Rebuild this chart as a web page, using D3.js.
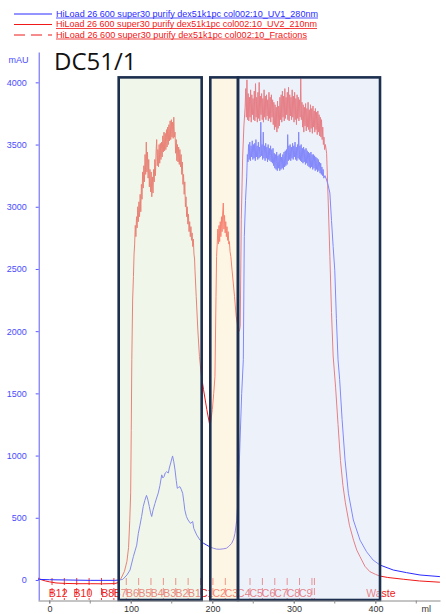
<!DOCTYPE html>
<html><head><meta charset="utf-8">
<script src="https://cdn.jsdelivr.net/npm/d3@7"></script>
<style>body{margin:0;background:#fff}svg{display:block}</style>
</head><body><svg id="c" width="446" height="614"></svg>
<script>
// ---------- data (ml, mAU) ----------
const uv280 = [
[-14,5],[0,2],[20,0],[50,-3],[80,-3],[86,0],[90,5],[95,40],[98.8,80],[103,190],[107,280],[109,375],[111,440],[113,510],[115,590],[117,640],[119,680],[120.5,650],[122.5,590],[124,540],[125.4,510],[127,560],[129.4,615],[131,650],[133.5,700],[135.5,760],[137.7,845],[139,820],[140.5,830],[142,860],[143.8,870],[145.8,860],[147,900],[148.7,940],[151,997],[152.5,950],[154,885],[155.5,800],[156.8,737],[158.5,745],[160,750],[161.5,730],[163.4,697],[165,620],[166,563],[168,510],[170,482],[173,455],[175.7,470],[177,415],[180.6,362],[184.7,320],[189,295],[193,280],[197,265],[201,255],[205,248],[209,247],[213,250],[217,255],[220,270],[223.6,295],[226,330],[227.6,375],[229.7,480],[231.7,700],[233.7,1100],[235.8,1500],[237.8,1770],[239,2760],[240.5,3050],[241.25,3150],[242,3240],[242.75,3420],[243.5,3360],[244.25,3500],[245,3380],[245.75,3520],[246.5,3370],[247.25,3490],[248,3400],[248.75,3530],[249.5,3380],[250.25,3500],[251,3390],[251.75,3510],[252.5,3370],[253.25,3540],[254,3400],[254.75,3490],[255.5,3380],[256.25,3520],[257,3390],[257.75,3480],[258.5,3400],[259.25,3680],[260,3410],[260.75,3500],[261.5,3380],[262.25,3600],[263,3390],[263.75,3490],[264.5,3370],[265.25,3510],[266,3390],[266.75,3480],[267.5,3360],[268.25,3500],[269,3380],[269.75,3470],[270.5,3370],[271.25,3490],[272,3360],[272.75,3460],[273.5,3350],[274.25,3470],[275,3330],[275.75,3430],[276.5,3310],[277.25,3420],[278,3300],[278.75,3440],[279.5,3290],[280.25,3410],[281,3310],[281.75,3420],[282.5,3290],[283.25,3430],[284,3300],[284.75,3400],[285.5,3310],[286.25,3420],[287,3300],[287.75,3440],[288.5,3320],[289.25,3450],[290,3330],[290.75,3460],[291.5,3340],[292.25,3580],[293,3370],[293.75,3490],[294.5,3380],[295.25,3500],[296,3370],[296.75,3480],[297.5,3390],[298.25,3510],[299,3380],[299.75,3490],[300.5,3400],[301.25,3520],[302,3380],[302.75,3480],[303.5,3370],[304.25,3500],[305,3390],[305.75,3600],[306.5,3380],[307.25,3490],[308,3370],[308.75,3500],[309.5,3360],[310.25,3470],[311,3350],[311.75,3480],[312.5,3360],[313.25,3460],[314,3340],[314.75,3470],[315.5,3350],[316.25,3450],[317,3330],[317.75,3440],[318.5,3320],[319.25,3430],[320,3310],[320.75,3440],[321.5,3320],[322.25,3420],[323,3300],[323.75,3420],[324.5,3310],[325.25,3410],[326,3290],[326.75,3400],[327.5,3300],[328.25,3390],[329,3280],[329.75,3380],[330.5,3290],[331.25,3360],[332,3270],[332.75,3350],[333.5,3260],[334.25,3320],[335,3250],[335.75,3300],[336.5,3230],[338,3250],[340,3215],[342,3170],[344,3110],[346,2890],[348,2680],[350,2490],[352,2100],[354,1770],[356,1610],[359,1290],[362.6,965],[366.7,697],[372.8,482],[381,320],[389,227],[397,160],[405.5,120],[421.8,80],[438,59],[454.6,40],[479,27]
];
const uv210 = [
[-14,15],[-10,2],[-5,-8],[0,-15],[8,-24],[20,-28],[35,-30],[50,-30],[65,-31],[80,-29],[84,-22],[88,15],[92,70],[95,150],[97,260],[98.5,480],[99.6,700],[100.3,1200],[101,1770],[102,2250],[103,2440],[103.75,2620],[104.5,2700],[105.25,2850],[106,2760],[106.75,2920],[107.5,2830],[108.25,3000],[109,2880],[109.75,3040],[110.5,2920],[111.25,3100],[112,2960],[112.75,3180],[113.5,3060],[114.25,3280],[115,3150],[115.75,3330],[116.5,3200],[117.25,3420],[118,3260],[118.75,3520],[119.5,3280],[120.25,3440],[121,3230],[121.75,3380],[122.5,3160],[123.25,3300],[124,3120],[124.75,3280],[125.5,3080],[126.25,3240],[127,3110],[127.75,3300],[128.5,3200],[129.25,3380],[130,3250],[130.75,3440],[131.5,3540],[132.25,3330],[133,3460],[133.75,3320],[134.5,3500],[135.25,3350],[136,3510],[136.75,3380],[137.5,3520],[138.25,3400],[139,3570],[139.75,3440],[140.5,3600],[141.25,3450],[142,3590],[142.75,3460],[143.5,3620],[144.25,3480],[145,3640],[145.75,3500],[146.5,3660],[147.25,3530],[148,3690],[148.75,3540],[149.5,3700],[150.25,3560],[151,3680],[151.75,3550],[152.5,3720],[153.25,3560],[154,3600],[154.75,3430],[155.5,3540],[156.25,3370],[157,3500],[157.75,3360],[158.5,3480],[159.25,3340],[160,3460],[160.75,3320],[161.5,3420],[162.25,3260],[163,3360],[163.75,3180],[164.5,3260],[165.25,3100],[166,3200],[166.75,3000],[167.5,3080],[168.25,2920],[169,3000],[169.75,2860],[170.5,2940],[171.25,2800],[172,2880],[172.75,2760],[173.5,2840],[174.25,2730],[175,2790],[175.75,2680],[176.5,2740],[177.25,2620],[178,2580],[178.5,2490],[180,2280],[182,2010],[184,1795],[186,1660],[189,1530],[193,1370],[197,1230],[199.8,1370],[201.5,1500],[203,1635],[204.3,2280],[205,2600],[205.75,2700],[206.5,2820],[207.25,2700],[208,2850],[208.75,2720],[209.5,2880],[210.25,2760],[211,2920],[211.75,2800],[212.5,2950],[213.25,3030],[214,2820],[214.75,2930],[215.5,2790],[216.25,2880],[217,2760],[217.75,2840],[218.5,2730],[219.25,2800],[220,2700],[220.75,2720],[221.5,2640],[222.5,2600],[224,2490],[227,2280],[229,2120],[231,2035],[233,2000],[234,2040],[235.3,2900],[237,3400],[238.5,3650],[240,3800],[240.75,3950],[241.5,3720],[242.25,4020],[243,3700],[243.75,3910],[244.5,3690],[245.25,3880],[246,3720],[246.75,3940],[247.5,3680],[248.25,3900],[249,3740],[249.75,3870],[250.5,3700],[251.25,3930],[252,3690],[252.75,3990],[253.5,3720],[254.25,3880],[255,3680],[255.75,3920],[256.5,3710],[257.25,4000],[258,3690],[258.75,3890],[259.5,3740],[260.25,3910],[261,3700],[261.75,3870],[262.5,3680],[263.25,3940],[264,3720],[264.75,3890],[265.5,3700],[266.25,3900],[267,3730],[267.75,3860],[268.5,3690],[269.25,3920],[270,3710],[270.75,3880],[271.5,3680],[272.25,3900],[273,3720],[273.75,3860],[274.5,3660],[275.25,3840],[276,3620],[276.75,3820],[277.5,3640],[278.25,3800],[279,3600],[279.75,3850],[280.5,3630],[281.25,3810],[282,3650],[282.75,3880],[283.5,3700],[284.25,3900],[285,3680],[285.75,3930],[286.5,3720],[287.25,3890],[288,3690],[288.75,3950],[289.5,3710],[290.25,3880],[291,3740],[291.75,3920],[292.5,3700],[293.25,3960],[294,3690],[294.75,3900],[295.5,3730],[296.25,3880],[297,3700],[297.75,3940],[298.5,3720],[299.25,3890],[300,3680],[300.75,3920],[301.5,3700],[302.25,3870],[303,3660],[303.75,3900],[304.5,3710],[305.25,3880],[306,3690],[306.75,3860],[307.5,3720],[308.25,4030],[309,3700],[309.75,3840],[310.5,3640],[311.25,3820],[312,3600],[312.75,3800],[313.5,3650],[314.25,3830],[315,3610],[315.75,3790],[316.5,3640],[317.25,3840],[318,3620],[318.75,3780],[319.5,3600],[320.25,3820],[321,3630],[321.75,3790],[322.5,3590],[323.25,3810],[324,3640],[324.75,3770],[325.5,3600],[326.25,3790],[327,3620],[327.75,3760],[328.5,3580],[329.25,3770],[330,3600],[330.75,3740],[331.5,3570],[332.25,3720],[333,3560],[333.75,3700],[334.5,3540],[335.25,3640],[336,3500],[336.75,3560],[337.5,3460],[338.5,3500],[340,3430],[342,3030],[344,2600],[346,2150],[348,1800],[351,1550],[354,1250],[357,960],[360,760],[363,620],[368,440],[373,320],[377,240],[381,187],[387,110],[393,67],[400,45],[405,32],[415,20],[434,6],[454,-8],[479,-18]
];
const fractionMarks = [3.1,18.2,33.4,48.6,63.8,79.0,94.2,109.4,124.5,139.7,154.9,170.1,185.3,200.5,215.7,230.8,246.0,261.2,276.4,291.6,306.8,322.0,325.0,488.0];
const fractionLabels = ["B12","","B10","","B8","B7","B6","B5","B4","B3","B2","B1","C1","C2","C3","C4","C5","C6","C7","C8","C9","","Waste"];
const poolStart = [84.9, 197.3, 231.3];
const poolEnd = [186.7, 231.3, 405.5];
const poolTop = 4040;
const yTicks = [0,500,1000,1500,2000,2500,3000,3500,4000];
const xTicks = [0,100,200,300,400];
const xMinorTicks = [0,50,100,150,200,250,300,350,400,450];
const legendNames = [
  "HiLoad 26 600 super30 purify dex51k1pc col002:10_UV1_280nm",
  "HiLoad 26 600 super30 purify dex51k1pc col002:10_UV2_210nm",
  "HiLoad 26 600 super30 purify dex51k1pc col002:10_Fractions"
];
const titleText = "DC51/1";

// ---------- styles / layout ----------
const BLUE = "#2a2aff", RED = "#f01818";
const poolFill = ["#e1edd5", "#fdedc9", "#dbe5f5"];
const legendWidths = [262, 261, 251];

const svg = d3.select("#c");
const x = d3.scaleLinear().domain([-14.1, 479.1]).range([38, 440]);
const y = d3.scaleLinear().domain([-161, 4244]).range([600, 52]);

// fractions
const fr = svg.append("g");
fr.selectAll("line").data(fractionMarks).join("line")
  .attr("x1", d => x(d)).attr("x2", d => x(d))
  .attr("y1", 578).attr("y2", 600)
  .attr("stroke", "#f03c3c").attr("stroke-width", 1)
  .attr("stroke-dasharray", "7,3");
fr.selectAll("text").data(fractionLabels).join("text")
  .attr("x", (d, i) => (x(fractionMarks[i]) + x(fractionMarks[i + 1])) / 2)
  .attr("y", 596.5)
  .attr("text-anchor", "middle")
  .attr("font-family", "'Liberation Sans Narrow','Liberation Sans',sans-serif")
  .attr("font-size", "10.5px")
  .attr("fill", "#ee2020")
  .text(d => d);

// curves
const line = d3.line().x(d => x(d[0])).y(d => y(d[1]));
svg.append("path").datum(uv210).attr("d", line)
  .attr("fill", "none").attr("stroke", RED).attr("stroke-width", 1);
svg.append("path").datum(uv280).attr("d", line)
  .attr("fill", "none").attr("stroke", BLUE).attr("stroke-width", 1);

// pool boxes (semi-transparent over curves)
const pools = poolStart.map((s, i) => ({s, e: poolEnd[i], i}));
svg.append("g").selectAll("rect").data(pools).join("rect")
  .attr("x", d => x(d.s)).attr("width", d => x(d.e) - x(d.s))
  .attr("y", y(poolTop)).attr("height", y(-161) - y(poolTop))
  .attr("fill", d => poolFill[d.i]).attr("fill-opacity", 0.5)
  .attr("stroke", "#1d2f4f").attr("stroke-width", 2.6);

// y axis
const ya = svg.append("g").attr("transform", "translate(38.7,0)")
  .call(d3.axisLeft(y).tickValues(yTicks).tickSize(3).tickSizeOuter(0).tickPadding(9).tickFormat(d3.format("d")));
ya.select(".domain").attr("stroke", "#5a5aff");
ya.selectAll(".tick line").attr("stroke", "#5a5aff");
ya.selectAll("text").attr("fill", "#4a4aff").attr("font-family", "'Liberation Sans',Arial,sans-serif").attr("font-size", "9px");
svg.append("text").attr("x", 8.5).attr("y", 63.3).text("mAU")
  .attr("fill", "#4a4aff").attr("font-family", "'Liberation Sans',Arial,sans-serif").attr("font-size", "9px");

// x axis
const xa = svg.append("g").attr("transform", "translate(0,600.5)")
  .call(d3.axisBottom(x).tickValues(xTicks).tickSize(3).tickSizeOuter(0).tickFormat(d3.format("d")));
xa.select(".domain").attr("stroke", "#8a8a8a");
xa.selectAll(".tick line").attr("stroke", "#8a8a8a");
xa.selectAll("text").attr("y", 11).attr("dy", 0).attr("fill", "#333")
  .attr("font-family", "'Liberation Sans',Arial,sans-serif").attr("font-size", "9px");
xa.append("g").selectAll("line").data(xMinorTicks).join("line")
  .attr("x1", d => x(d)).attr("x2", d => x(d)).attr("y1", 0).attr("y2", 3)
  .attr("stroke", "#8a8a8a");
svg.append("text").attr("x", 421.5).attr("y", 612).text("ml")
  .attr("fill", "#333").attr("font-family", "'Liberation Sans',Arial,sans-serif").attr("font-size", "9px");

// title
svg.append("text").attr("x", 54).attr("y", 70).text(titleText)
  .attr("font-family", "'Open Sans',sans-serif").attr("font-size", "24px").attr("fill", "#111");

// legend
const legColors = [BLUE, RED, RED];
const legDash = [null, null, "11,6"];
const lg = svg.append("g");
legendNames.forEach((n, i) => {
  const ly = 14 + i * 10.5;
  lg.append("line").attr("x1", 14).attr("x2", 52).attr("y1", ly).attr("y2", ly)
    .attr("stroke", legColors[i]).attr("stroke-width", 1)
    .attr("stroke-dasharray", legDash[i]);
  lg.append("text").attr("x", 56).attr("y", ly + 2.7).text(n)
    .attr("fill", legColors[i]).attr("font-family", "'Liberation Sans',Arial,sans-serif")
    .attr("font-size", "9px").attr("textLength", legendWidths[i]).attr("lengthAdjust", "spacingAndGlyphs");
  lg.append("line").attr("x1", 56).attr("x2", 56 + legendWidths[i]).attr("y1", ly + 4).attr("y2", ly + 4)
    .attr("stroke", legColors[i]).attr("stroke-width", 0.8);
});
</script></body></html>
